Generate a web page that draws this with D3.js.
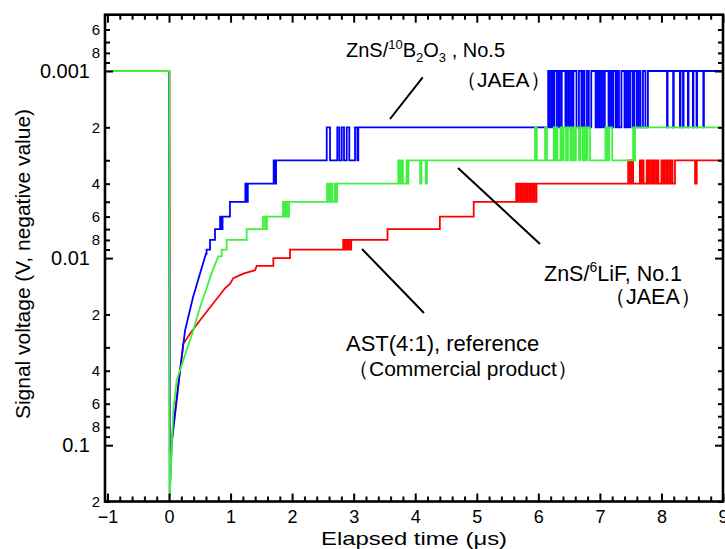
<!DOCTYPE html>
<html>
<head>
<meta charset="utf-8">
<script src="https://cdn.jsdelivr.net/npm/d3@7"></script>
<style>
  body { margin: 0; background: #fff; }
  text { font-family: "Liberation Sans", Arial, sans-serif; fill: #000; }
</style>
</head>
<body>
<script>
// ---------- data ----------
// x: elapsed time (us), y: signal voltage (V, negative value, log axis)
const xTicks = [-1, 0, 1, 2, 3, 4, 5, 6, 7, 8, 9];
const yMajor = [0.001, 0.01, 0.1];
const yMinorLabelled = [2, 4, 6, 8];

// smooth part of each trace [t, V]
const blueDecay = [[-1.04, 0.001], [0, 0.001], [0.012, 0.18], [0.044, 0.098], [0.179, 0.04],
  [0.26, 0.0244], [0.39, 0.0162], [0.5, 0.0122], [0.6, 0.0095]];
const greenDecay = [[-1.04, 0.001], [0.004, 0.001], [0.01, 0.197], [0.07, 0.065], [0.125, 0.045],
  [0.288, 0.031], [0.395, 0.0243], [0.504, 0.0183], [0.61, 0.0145], [0.694, 0.012], [0.8, 0.0098]];
const redDecay = [[-1.04, 0.001], [0.008, 0.001], [0.015, 0.12], [0.065, 0.08], [0.179, 0.04],
  [0.232, 0.0287], [0.341, 0.0254], [0.504, 0.0215], [0.91, 0.0145], [0.991, 0.0137],
  [1.045, 0.0128], [1.207, 0.0121], [1.397, 0.0116], [1.425, 0.011], [1.669, 0.011]];

// digitiser-quantised part: level changes [t, V], held until the next change
const blueSteps = [[0.61, 0.009], [0.666, 0.008], [0.747, 0.007], [0.83, 0.006], [0.84, 0.007],
  [0.85, 0.006], [0.86, 0.007], [0.87, 0.006], [0.99, 0.005], [1.24, 0.004], [1.25, 0.005],
  [1.26, 0.004], [1.27, 0.005], [1.28, 0.004], [1.70, 0.003], [1.71, 0.004], [1.72, 0.003],
  [1.73, 0.004], [1.74, 0.003], [2.562, 0.002], [2.616, 0.003], [2.734, 0.002], [2.767, 0.003],
  [2.806, 0.002], [2.843, 0.003], [2.887, 0.002], [2.929, 0.003], [3.022, 0.002], [3.06, 0.003],
  [3.075, 0.002]];
const greenSteps = [[0.856, 0.009], [0.937, 0.008], [1.262, 0.007], [1.527, 0.006], [1.56, 0.007],
  [1.59, 0.006], [1.852, 0.005], [1.87, 0.006], [1.89, 0.005], [1.92, 0.006], [1.95, 0.005],
  [2.567, 0.004], [2.59, 0.005], [2.62, 0.004], [2.65, 0.005], [2.69, 0.004], [2.71, 0.005],
  [2.73, 0.004], [3.725, 0.003], [3.75, 0.004], [3.78, 0.003], [3.80, 0.004], [3.86, 0.003],
  [3.875, 0.004], [3.89, 0.003], [4.08, 0.004], [4.10, 0.003], [4.17, 0.004], [4.19, 0.003]];
const redSteps = [[1.695, 0.01], [1.966, 0.009], [2.83, 0.008], [2.85, 0.009], [2.87, 0.008],
  [2.90, 0.009], [2.92, 0.008], [2.95, 0.009], [2.96, 0.008], [3.55, 0.007], [4.40, 0.006],
  [4.95, 0.005]];

// rapid flicker between two neighbouring levels: [start, end] of each excursion
const bluePulsesA = [[6.16, 6.18], [6.21, 6.235], [6.26, 6.30], [6.33, 6.35], [6.38, 6.44],
  [6.46, 6.49], [6.52, 6.55], [6.57, 6.62], [6.66, 6.70], [6.72, 6.75], [6.79, 6.82], [6.86, 6.93],
  [6.96, 6.99], [7.02, 7.05], [7.08, 7.14], [7.16, 7.19], [7.22, 7.26], [7.28, 7.31], [7.35, 7.40],
  [7.43, 7.46], [7.49, 7.53], [7.56, 7.60], [7.63, 7.66], [7.70, 7.74]];
const bluePulsesB = [[8.09, 8.10], [8.19, 8.20], [8.30, 8.31], [8.35, 8.36], [8.43, 8.44],
  [8.51, 8.52], [8.57, 8.58], [8.68, 8.69]];
const greenPulses = [[5.946, 5.975], [6.11, 6.14], [6.25, 6.27], [6.29, 6.31], [6.36, 6.39],
  [6.41, 6.45], [6.48, 6.52], [6.55, 6.58], [6.61, 6.66], [6.68, 6.72], [6.75, 6.78], [6.80, 6.84],
  [7.09, 7.12], [7.15, 7.20], [7.54, 7.555]];
const redPulsesA = [[5.64, 5.66], [5.68, 5.71], [5.73, 5.75], [5.78, 5.80], [5.82, 5.85],
  [5.87, 5.90], [5.92, 5.94]];
const redPulsesB = [[7.46, 7.48], [7.51, 7.54], [7.65, 7.67], [7.69, 7.71], [7.76, 7.78],
  [7.80, 7.83], [7.85, 7.87], [7.89, 7.92], [7.93, 7.95], [8.00, 8.03], [8.05, 8.08], [8.10, 8.13],
  [8.15, 8.18]];
const redPulsesC = [[8.546, 8.573]];

// ---------- layout ----------
const W = 725, H = 549;
const frame = { left: 105, right: 723, top: 14.7, bottom: 501.5 };

const svg = d3.select("body").append("svg")
  .attr("width", W)
  .attr("height", H);

const x = d3.scaleLinear().domain([-1.04, 9]).range([frame.left, frame.right]);
const y = d3.scaleLog().domain([0.0005, 0.2]).range([frame.top, frame.bottom]);

// turn an excursion list into level changes
function pulses(list, base, peak) {
  const out = [];
  list.forEach(([a, b]) => { out.push([a, peak]); out.push([b, base]); });
  return out;
}

// decay (linear) followed by held levels up to the end of the record
function trace(decay, steps) {
  const pts = decay.slice();
  let v = decay[decay.length - 1][1];
  steps.forEach(([t, nv]) => { pts.push([t, v]); pts.push([t, nv]); v = nv; });
  pts.push([9, v]);
  return pts;
}

const blue = trace(blueDecay, blueSteps
  .concat(pulses(bluePulsesA, 0.002, 0.001), [[7.78, 0.001]], pulses(bluePulsesB, 0.001, 0.002)));
const green = trace(greenDecay, greenSteps
  .concat(pulses(greenPulses, 0.003, 0.002), [[7.57, 0.002]]));
const red = trace(redDecay, redSteps
  .concat(pulses(redPulsesA, 0.005, 0.004), [[5.97, 0.004]], pulses(redPulsesB, 0.004, 0.003),
    [[8.22, 0.003]], pulses(redPulsesC, 0.003, 0.004)));

const line = d3.line().x(d => x(d[0])).y(d => y(d[1]));

svg.append("defs").append("clipPath").attr("id", "clip")
  .append("rect")
  .attr("x", frame.left).attr("y", frame.top)
  .attr("width", frame.right - frame.left).attr("height", frame.bottom - frame.top);

const plot = svg.append("g").attr("clip-path", "url(#clip)");
[[red, "#ff0000"], [blue, "#0000ff"], [green, "#40f040"]].forEach(([pts, col]) => {
  plot.append("path")
    .attr("d", line(pts))
    .attr("fill", "none")
    .attr("stroke", col)
    .attr("stroke-width", 1.8)
    .attr("stroke-linejoin", "miter");
});

// ---------- axes (ticks inward on all four sides) ----------
const xMinor = d3.range(-1, 9.001, 0.2).filter(v => Math.abs(v - Math.round(v)) > 1e-6);
const yMinor = [];
[0.0001, 0.001, 0.01, 0.1].forEach(d => {
  for (let k = 2; k <= 9; k++) {
    const v = +(k * d).toPrecision(3);
    if (v > 0.0005 && v <= 0.2) yMinor.push(v);
  }
});

function styleAxis(g) {
  g.select(".domain").remove();
  g.selectAll("line").attr("stroke", "#000").attr("stroke-width", 2);
}

const fmtX = d3.format("d");

svg.append("g").attr("transform", `translate(0,${frame.bottom})`)
  .call(d3.axisBottom(x).tickValues(xTicks).tickSize(-8).tickPadding(9).tickFormat(fmtX))
  .call(styleAxis)
  .call(g => g.selectAll("text").attr("font-size", 18).attr("font-family", "Liberation Sans"));
svg.append("g").attr("transform", `translate(0,${frame.bottom})`)
  .call(d3.axisBottom(x).tickValues(xMinor).tickSize(-5).tickFormat(""))
  .call(styleAxis);
svg.append("g").attr("transform", `translate(0,${frame.top})`)
  .call(d3.axisTop(x).tickValues(xTicks).tickSize(-8).tickFormat(""))
  .call(styleAxis);
svg.append("g").attr("transform", `translate(0,${frame.top})`)
  .call(d3.axisTop(x).tickValues(xMinor).tickSize(-5).tickFormat(""))
  .call(styleAxis);

svg.append("g").attr("transform", `translate(${frame.left},0)`)
  .call(d3.axisLeft(y).tickValues(yMajor).tickSize(-8).tickPadding(15).tickFormat(d3.format("")))
  .call(styleAxis)
  .call(g => g.selectAll("text").attr("font-size", 20).attr("font-family", "Liberation Sans"));
svg.append("g").attr("transform", `translate(${frame.left},0)`)
  .call(d3.axisLeft(y).tickValues(yMinor).tickSize(-5).tickPadding(5)
    .tickFormat(v => {
      const k = Math.round(v / Math.pow(10, Math.floor(Math.log10(v) + 1e-9)));
      return yMinorLabelled.includes(k) ? k : "";
    }))
  .call(styleAxis)
  .call(g => g.selectAll("text").attr("font-size", 15).attr("font-family", "Liberation Sans"));
svg.append("g").attr("transform", `translate(${frame.right},0)`)
  .call(d3.axisRight(y).tickValues(yMajor).tickSize(-8).tickFormat(""))
  .call(styleAxis);
svg.append("g").attr("transform", `translate(${frame.right},0)`)
  .call(d3.axisRight(y).tickValues(yMinor).tickSize(-5).tickFormat(""))
  .call(styleAxis);

svg.append("rect")
  .attr("x", frame.left).attr("y", frame.top)
  .attr("width", frame.right - frame.left).attr("height", frame.bottom - frame.top)
  .attr("fill", "none").attr("stroke", "#000").attr("stroke-width", 2.6);

// axis titles
svg.append("text")
  .attr("x", 414).attr("y", 544.5)
  .attr("text-anchor", "middle").attr("font-size", 19)
  .attr("textLength", 186).attr("lengthAdjust", "spacingAndGlyphs")
  .text("Elapsed time (μs)");
svg.append("text")
  .attr("transform", `translate(30,264) rotate(-90)`)
  .attr("text-anchor", "middle").attr("font-size", 20)
  .attr("textLength", 310).attr("lengthAdjust", "spacingAndGlyphs")
  .text("Signal voltage (V, negative value)");

// ---------- annotations ----------
const leaders = [
  [422.7, 77.3, 390, 119],
  [458, 168, 540, 244],
  [362, 249, 424, 313]
];
svg.append("g").selectAll("line").data(leaders).join("line")
  .attr("x1", d => d[0]).attr("y1", d => d[1]).attr("x2", d => d[2]).attr("y2", d => d[3])
  .attr("stroke", "#000").attr("stroke-width", 2);

const t1 = svg.append("text").attr("x", 346).attr("y", 57).attr("font-size", 20);
t1.append("tspan").text("ZnS/");
t1.append("tspan").attr("font-size", 13).attr("dy", -8).text("10");
t1.append("tspan").attr("dy", 8).text("B");
t1.append("tspan").attr("font-size", 13).attr("dy", 5).text("2");
t1.append("tspan").attr("dy", -5).text("O");
t1.append("tspan").attr("font-size", 13).attr("dy", 5).text("3");
t1.append("tspan").attr("dy", -5).text(" , No.5");
svg.append("text").attr("x", 456).attr("y", 87).attr("font-size", 21)
  .text("（JAEA）");

const t2 = svg.append("text").attr("x", 544).attr("y", 281).attr("font-size", 21.5);
t2.append("tspan").text("ZnS/");
t2.append("tspan").attr("font-size", 14).attr("dy", -9).text("6");
t2.append("tspan").attr("dy", 9).text("LiF, No.1");
svg.append("text").attr("x", 604).attr("y", 304).attr("font-size", 21.5)
  .text("（JAEA）");

svg.append("text").attr("x", 346).attr("y", 351).attr("font-size", 22)
  .text("AST(4:1), reference");
svg.append("text").attr("x", 348).attr("y", 376).attr("font-size", 21)
  .text("（Commercial product）");
</script>
</body>
</html>
